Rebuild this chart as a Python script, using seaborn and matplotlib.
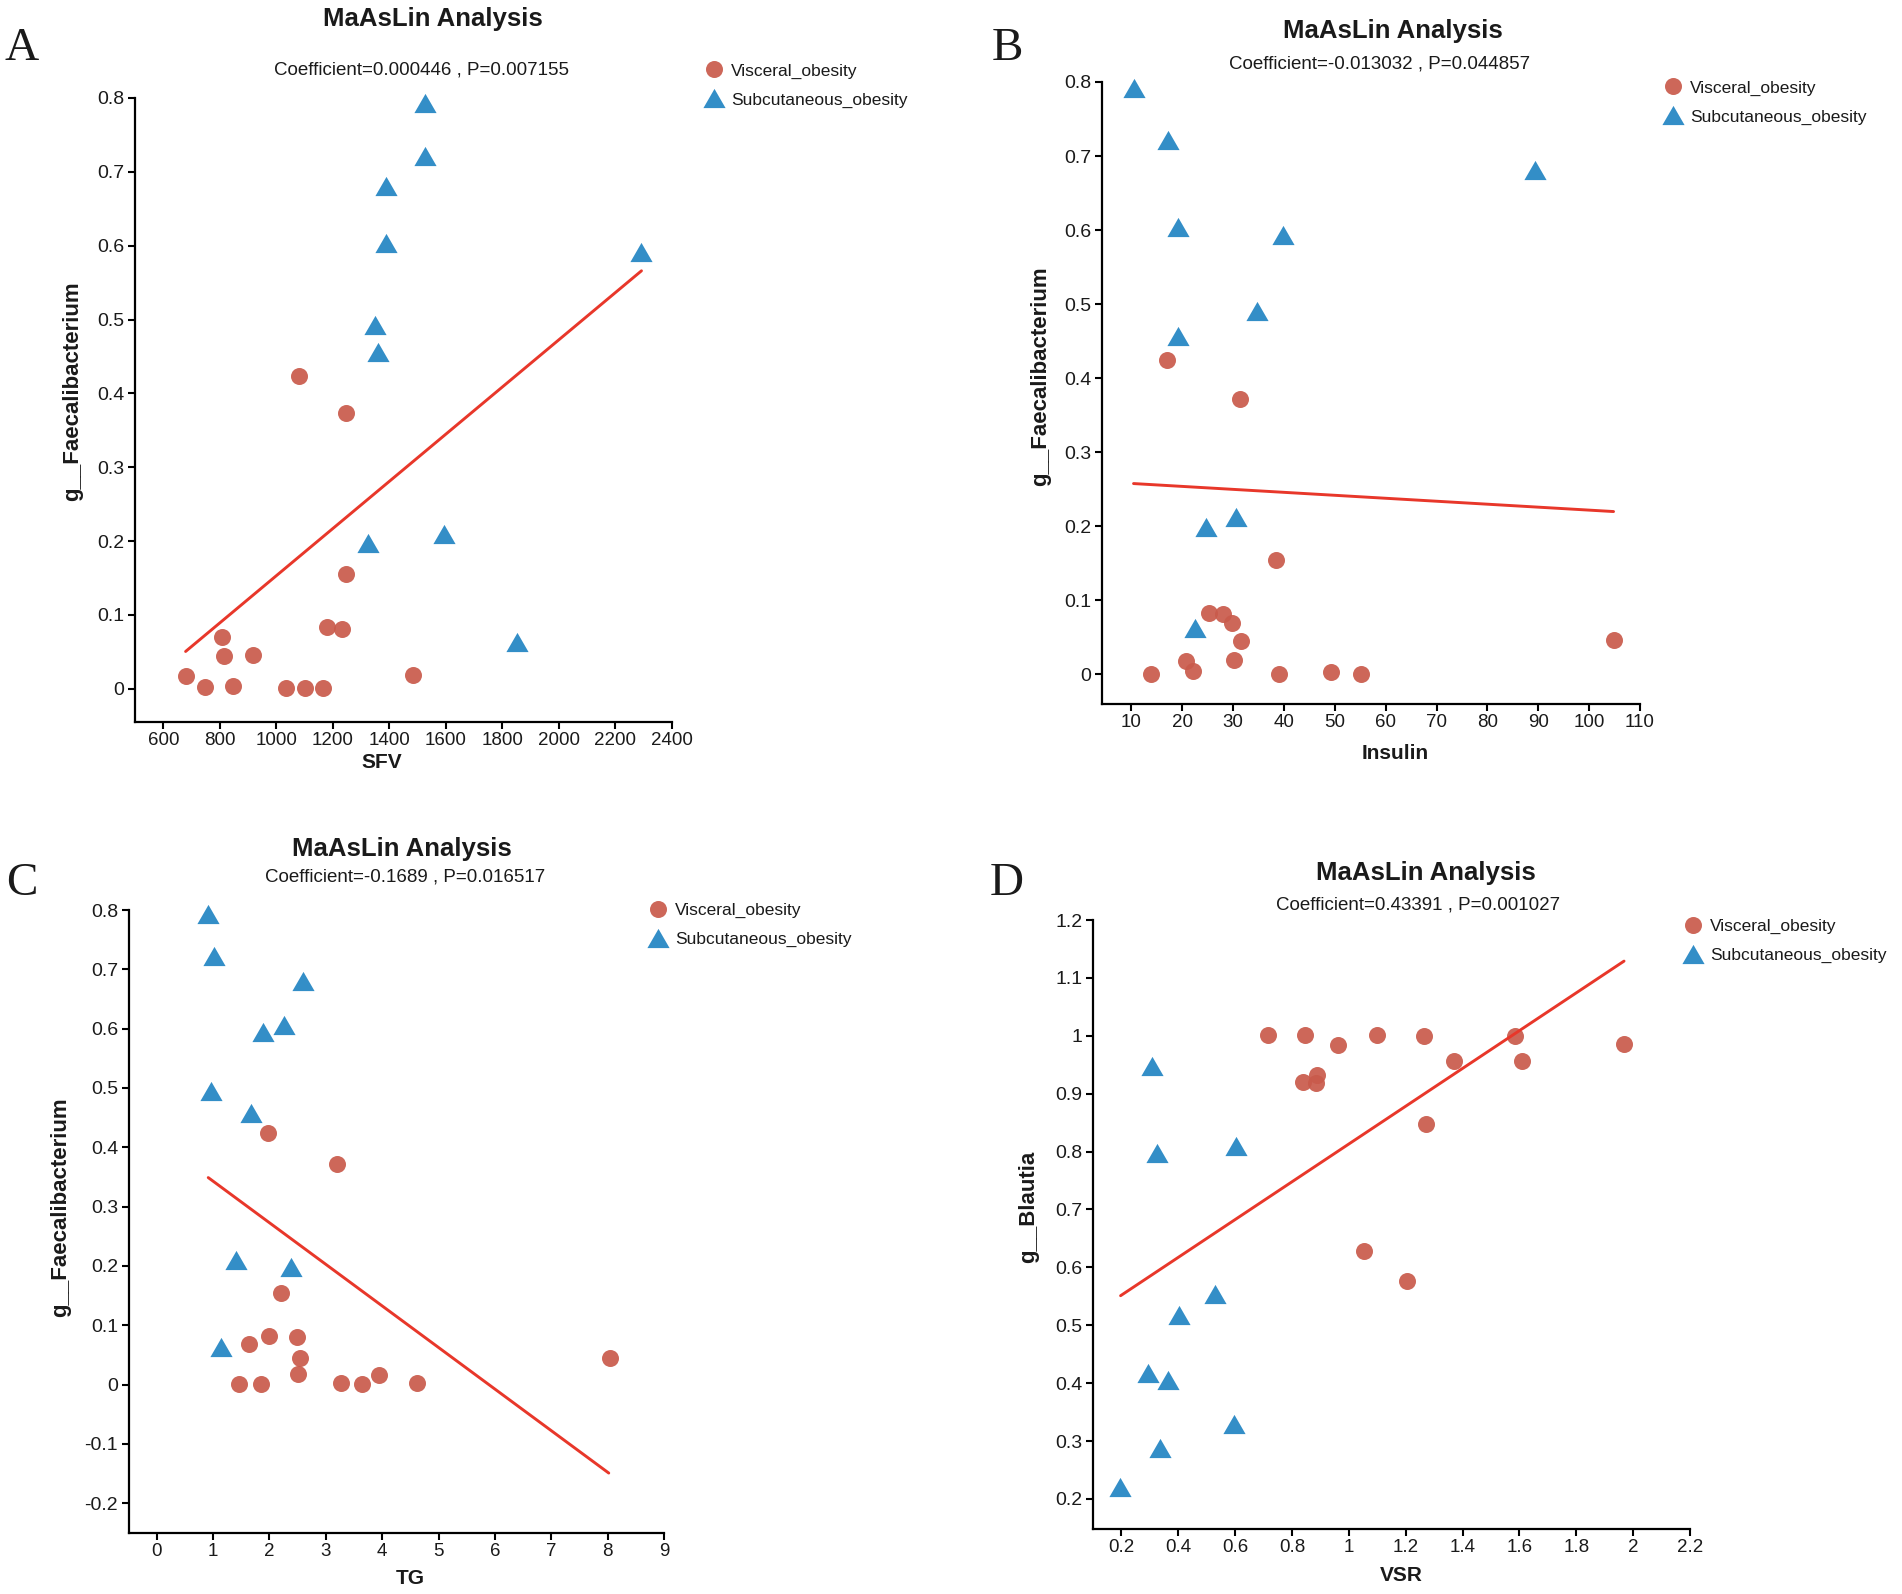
import numpy as np
import pandas as pd
import matplotlib
matplotlib.use("Agg")
import matplotlib.pyplot as plt
from matplotlib.ticker import FuncFormatter
import seaborn as sns

# ---------------- data ----------------
groups = ["Visceral_obesity", "Subcutaneous_obesity"]

# Panel A : SFV vs g__Faecalibacterium
a_vis_x = [679, 747, 808, 816, 847, 916, 1036, 1101, 1164, 1180, 1231, 1246, 1484, 1081, 1245]
a_vis_y = [0.017, 0.003, 0.070, 0.045, 0.004, 0.046, 0.001, 0.001, 0.001, 0.083, 0.081, 0.156, 0.019, 0.424, 0.373]
a_sub_x = [1527, 1527, 1387, 1387, 2292, 1349, 1361, 1326, 1593, 1852]
a_sub_y = [0.793, 0.722, 0.681, 0.603, 0.592, 0.492, 0.456, 0.197, 0.210, 0.063]
a_fit_x = [679, 2292]
a_fit_y = [0.0505, 0.566]
a_xticks = [600, 800, 1000, 1200, 1400, 1600, 1800, 2000, 2200, 2400]
a_yticks = [0, 0.1, 0.2, 0.3, 0.4, 0.5, 0.6, 0.7, 0.8]

# Panel B : Insulin vs g__Faecalibacterium
b_vis_x = [16.9, 31.4, 38.4, 25.2, 28.0, 29.8, 31.6, 20.8, 22.1, 30.2, 13.8, 39.0, 49.3, 55.1, 104.8]
b_vis_y = [0.424, 0.372, 0.155, 0.083, 0.081, 0.070, 0.045, 0.018, 0.005, 0.019, 0.001, 0.001, 0.003, 0.001, 0.046]
b_sub_x = [10.4, 17.2, 89.4, 19.1, 39.8, 34.6, 19.2, 24.6, 30.6, 22.4]
b_sub_y = [0.792, 0.722, 0.681, 0.604, 0.593, 0.491, 0.457, 0.199, 0.212, 0.063]
b_fit_x = [10.4, 104.8]
b_fit_y = [0.2577, 0.2199]
b_xticks = [10, 20, 30, 40, 50, 60, 70, 80, 90, 100, 110]
b_yticks = [0, 0.1, 0.2, 0.3, 0.4, 0.5, 0.6, 0.7, 0.8]

# Panel C : TG vs g__Faecalibacterium
c_vis_x = [1.98, 3.19, 2.20, 1.63, 2.00, 2.48, 2.55, 2.51, 1.46, 1.85, 3.26, 3.64, 3.94, 4.61, 8.04]
c_vis_y = [0.425, 0.372, 0.155, 0.069, 0.082, 0.081, 0.045, 0.018, 0.001, 0.001, 0.003, 0.001, 0.017, 0.003, 0.045]
c_sub_x = [0.90, 1.02, 2.59, 2.25, 1.89, 0.96, 1.67, 1.40, 2.38, 1.14]
c_sub_y = [0.794, 0.723, 0.681, 0.606, 0.594, 0.495, 0.458, 0.210, 0.199, 0.064]
c_fit_x = [0.913, 8.02]
c_fit_y = [0.349, -0.149]
c_xticks = [0, 1, 2, 3, 4, 5, 6, 7, 8, 9]
c_yticks = [-0.2, -0.1, 0, 0.1, 0.2, 0.3, 0.4, 0.5, 0.6, 0.7, 0.8]

# Panel D : VSR vs g__Blautia
d_vis_x = [0.716, 0.845, 0.962, 0.839, 0.883, 0.888, 1.099, 1.266, 1.369, 1.585, 1.608, 1.273, 1.055, 1.203, 1.968]
d_vis_y = [1.001, 1.001, 0.984, 0.921, 0.918, 0.933, 1.001, 0.999, 0.957, 0.999, 0.957, 0.848, 0.629, 0.576, 0.986]
d_sub_x = [0.195, 0.334, 0.595, 0.294, 0.365, 0.403, 0.528, 0.308, 0.325, 0.602]
d_sub_y = [0.220, 0.288, 0.330, 0.418, 0.405, 0.518, 0.554, 0.948, 0.798, 0.810]
d_fit_x = [0.197, 1.968]
d_fit_y = [0.551, 1.129]
d_xticks = [0.2, 0.4, 0.6, 0.8, 1.0, 1.2, 1.4, 1.6, 1.8, 2.0, 2.2]
d_yticks = [0.2, 0.3, 0.4, 0.5, 0.6, 0.7, 0.8, 0.9, 1.0, 1.1, 1.2]

titles = ["MaAsLin Analysis"] * 4
subtitles = ["Coefficient=0.000446 , P=0.007155",
             "Coefficient=-0.013032 , P=0.044857",
             "Coefficient=-0.1689 , P=0.016517",
             "Coefficient=0.43391 , P=0.001027"]
xlabels = ["SFV", "Insulin", "TG", "VSR"]
ylabels = ["g__Faecalibacterium", "g__Faecalibacterium", "g__Faecalibacterium", "g__Blautia"]
letters = ["A", "B", "C", "D"]

# ---------------- style ----------------
sns.set_theme(style="ticks")
plt.rcParams["font.family"] = ["Liberation Sans", "DejaVu Sans"]
plt.rcParams["axes.unicode_minus"] = False

RED = "#C95A4B"
BLUE = "#2C8AC6"
LINE = "#E8372A"
TXT = "#1a1a1a"

W, H = 1902, 1594
fig = plt.figure(figsize=(W / 100, H / 100), dpi=100)
fig.patch.set_facecolor("white")

tri = np.array([(0.0, 0.866), (-1.0, -0.866), (1.0, -0.866)])

def fx(px):
    return px / W

def fy(py):
    return 1 - py / H

panels = [
    dict(rect=(135, 98, 672, 722), xlim=(500, 2400), ylim=(-0.045, 0.8),
         vx=a_vis_x, vy=a_vis_y, sx=a_sub_x, sy=a_sub_y, fx_=a_fit_x, fy_=a_fit_y,
         xt=a_xticks, yt=a_yticks,
         title=(433, 19), sub=(421, 70), leg=(713.5, 70.4), letter=(22, 49),
         ylab=(-0.097, 0.53), xlab=(0.46, -0.05)),
    dict(rect=(1102, 82, 1640, 704), xlim=(4.2, 110), ylim=(-0.04, 0.8),
         vx=b_vis_x, vy=b_vis_y, sx=b_sub_x, sy=b_sub_y, fx_=b_fit_x, fy_=b_fit_y,
         xt=b_xticks, yt=b_yticks,
         title=(1393, 31), sub=(1380, 64), leg=(1673, 87.4), letter=(1007, 49),
         ylab=(-0.095, 0.527), xlab=(0.545, -0.064)),
    dict(rect=(128.6, 910, 664, 1533), xlim=(-0.5, 9), ylim=(-0.25, 0.8),
         vx=c_vis_x, vy=c_vis_y, sx=c_sub_x, sy=c_sub_y, fx_=c_fit_x, fy_=c_fit_y,
         xt=c_xticks, yt=c_yticks,
         title=(402, 849), sub=(405, 877), leg=(657.7, 910), letter=(22, 884),
         ylab=(-0.108, 0.523), xlab=(0.526, -0.058)),
    dict(rect=(1093, 920, 1690, 1529), xlim=(0.1, 2.2), ylim=(0.148, 1.2),
         vx=d_vis_x, vy=d_vis_y, sx=d_sub_x, sy=d_sub_y, fx_=d_fit_x, fy_=d_fit_y,
         xt=d_xticks, yt=d_yticks,
         title=(1426, 873), sub=(1418, 905), leg=(1692.7, 925.8), letter=(1007, 884),
         ylab=(-0.091, 0.529), xlab=(0.517, -0.061)),
]

fmt = FuncFormatter(lambda v, p: f"{v:g}")
leg_fs = 12.5
leg_fs_px = leg_fs * 100 / 72

for i, p in enumerate(panels):
    l, t, r, b = p["rect"]
    ax = fig.add_axes([fx(l), fy(b), (r - l) / W, (b - t) / H])
    ax.set_facecolor("white")

    sns.scatterplot(x=p["vx"], y=p["vy"], ax=ax, color=RED, marker="o", s=150,
                    linewidth=0, alpha=0.92, clip_on=False, label=groups[0], zorder=3)
    sns.scatterplot(x=p["sx"], y=p["sy"], ax=ax, color=BLUE, marker=tri, s=255,
                    linewidth=0, alpha=0.97, clip_on=False, label=groups[1], zorder=3)
    sns.lineplot(x=p["fx_"], y=p["fy_"], ax=ax, color=LINE, linewidth=2.1,
                 legend=False, zorder=4)

    ax.set_xlim(*p["xlim"])
    ax.set_ylim(*p["ylim"])
    ax.set_xticks(p["xt"])
    ax.set_yticks(p["yt"])
    ax.xaxis.set_major_formatter(fmt)
    ax.yaxis.set_major_formatter(fmt)
    sns.despine(ax=ax)
    for s in ("left", "bottom"):
        ax.spines[s].set_linewidth(1.6)
        ax.spines[s].set_color("black")
    ax.tick_params(axis="both", direction="out", length=5, width=1.5, color="black",
                   labelcolor=TXT, pad=2.5)
    ax.tick_params(axis="x", labelsize=13.5)
    ax.tick_params(axis="y", labelsize=14)
    ax.grid(False)

    ax.set_xlabel(xlabels[i], fontsize=15, fontweight="bold", color=TXT)
    ax.set_ylabel(ylabels[i], fontsize=16, fontweight="bold", color=TXT)
    ax.yaxis.set_label_coords(*p["ylab"])
    ax.xaxis.set_label_coords(*p["xlab"])

    handles, labels = ax.get_legend_handles_labels()
    lx, ly = p["leg"]
    ax.legend(handles, labels, loc="upper left",
              bbox_to_anchor=(fx(lx - leg_fs_px * 0.5), fy(ly - 7)),
              bbox_transform=fig.transFigure, frameon=False, borderpad=0,
              borderaxespad=0, handlelength=1.0, handletextpad=0.5,
              labelspacing=0.78, fontsize=leg_fs, scatteryoffsets=[0.5],
              labelcolor=TXT)

    tx, ty = p["title"]
    fig.text(fx(tx), fy(ty), titles[i], ha="center", va="center",
             fontsize=18.5, fontweight="bold", color=TXT)
    sx_, sy_ = p["sub"]
    fig.text(fx(sx_), fy(sy_), subtitles[i], ha="center", va="center",
             fontsize=13.5, color=TXT)
    lx_, ly_ = p["letter"]
    fig.text(fx(lx_), fy(ly_), letters[i], ha="center", va="center",
             fontsize=34, family=["Liberation Serif", "DejaVu Serif"], color=TXT)

fig.savefig("out.png", dpi=100, facecolor="white")
